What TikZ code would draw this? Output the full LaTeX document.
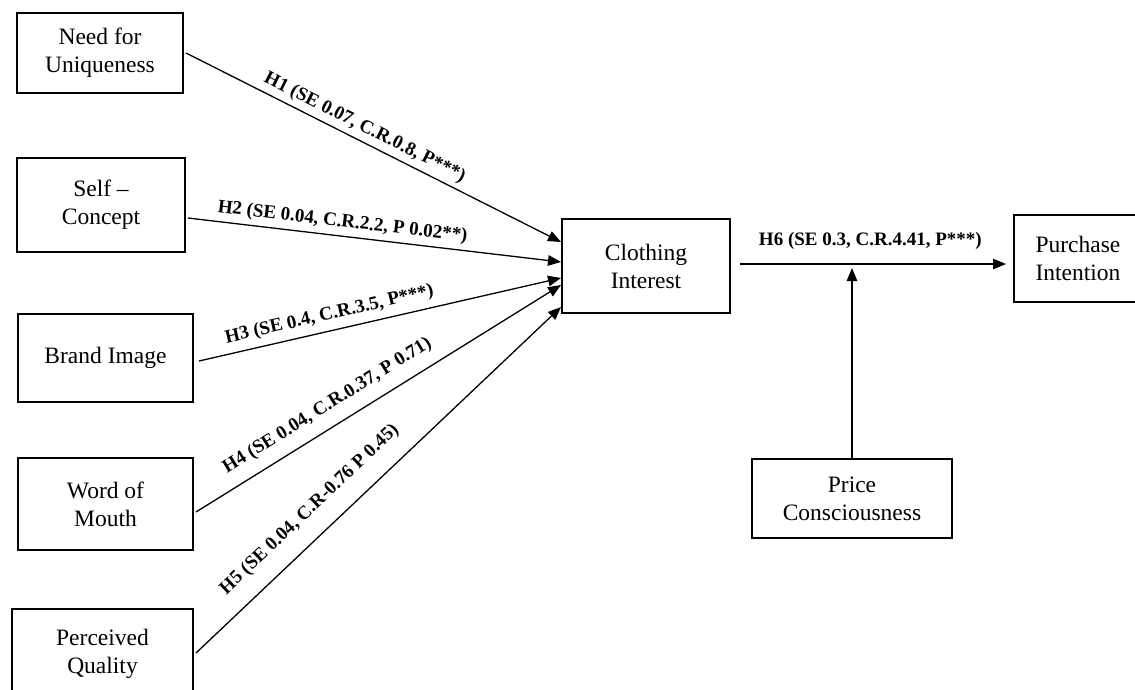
\documentclass[tikz,border=0pt]{standalone}
\usepackage{fontspec}
\setmainfont{Liberation Serif}
\usetikzlibrary{arrows.meta,calc}
\begin{document}
\begin{tikzpicture}[x=1pt,y=-1pt,
  box/.style={draw, line width=2pt, align=center, inner sep=0pt, font=\fontsize{23.5}{28}\selectfont},
  arr/.style={line width=1.3pt, -{Triangle[length=13pt,width=10.5pt]}},
  lab/.style={font=\bfseries\fontsize{19}{22}\selectfont, inner sep=0pt, sloped},
  labh/.style={font=\bfseries\fontsize{19}{22}\selectfont, inner sep=0pt}]
\useasboundingbox (0,0) rectangle (1135,689);
\clip (0,0) rectangle (1135,689);
% left boxes
\node[box, minimum width=166pt, minimum height=80pt] (nfu) at (100,53) {Need for\\Uniqueness};
\node[box, minimum width=168pt, minimum height=94pt] (sc) at (101,205) {Self –\\Concept};
\node[box, minimum width=175pt, minimum height=88pt] (bi) at (105.5,358) {Brand Image};
\node[box, minimum width=175pt, minimum height=92pt] (wom) at (105.5,504) {Word of\\Mouth};
\node[box, minimum width=181pt, minimum height=90pt] (pq) at (102.5,654) {Perceived\\Quality};
% centre and right
\node[box, minimum width=168pt, minimum height=94pt] (ci) at (646,266) {Clothing\\Interest};
\node[box, minimum width=128pt, minimum height=87pt] (pi) at (1078,258.5) {Purchase\\Intention};
\node[box, minimum width=200pt, minimum height=79pt] (pc) at (852,498.5) {Price\\Consciousness};
% hypotheses arrows
\draw[arr] ([xshift=2pt]nfu.east) -- node[lab, pos=0.46, above=4.5pt] {H1 (SE 0.07, C.R.0.8, P***)} ([yshift=24pt]ci.west);
\draw[arr] ([xshift=2pt,yshift=-13pt]sc.east) -- node[lab, pos=0.41, above=4.5pt] {H2 (SE 0.04, C.R.2.2, P 0.02**)} ([yshift=4pt]ci.west);
\draw[arr] ([xshift=5pt,yshift=-3pt]bi.east) -- node[lab, pos=0.37, above=6.5pt] {H3 (SE 0.4, C.R.3.5, P***)} ([yshift=-12pt]ci.west);
\draw[arr] ([xshift=2pt,yshift=-8pt]wom.east) -- node[lab, pos=0.39, above=11.5pt] {H4 (SE 0.04, C.R.0.37, P 0.71)} ([yshift=-19pt]ci.west);
\draw[arr] ([xshift=2pt,yshift=1pt]pq.east) -- node[lab, pos=0.36, above=16.5pt] {H5 (SE 0.04, C.R-0.76 P 0.45)} ([yshift=-41pt]ci.west);
% H6
\coordinate (h6s) at ([xshift=9pt,yshift=2pt]ci.east);
\draw[arr] (h6s) -- node[labh, pos=0.49, above=14pt] {H6 (SE 0.3, C.R.4.41, P***)} ($(h6s -| pi.west)+(-7,0)$);
% moderator
\draw[arr] (pc.north) -- ($(pc.north |- h6s)+(0,4)$);
\end{tikzpicture}
\end{document}
